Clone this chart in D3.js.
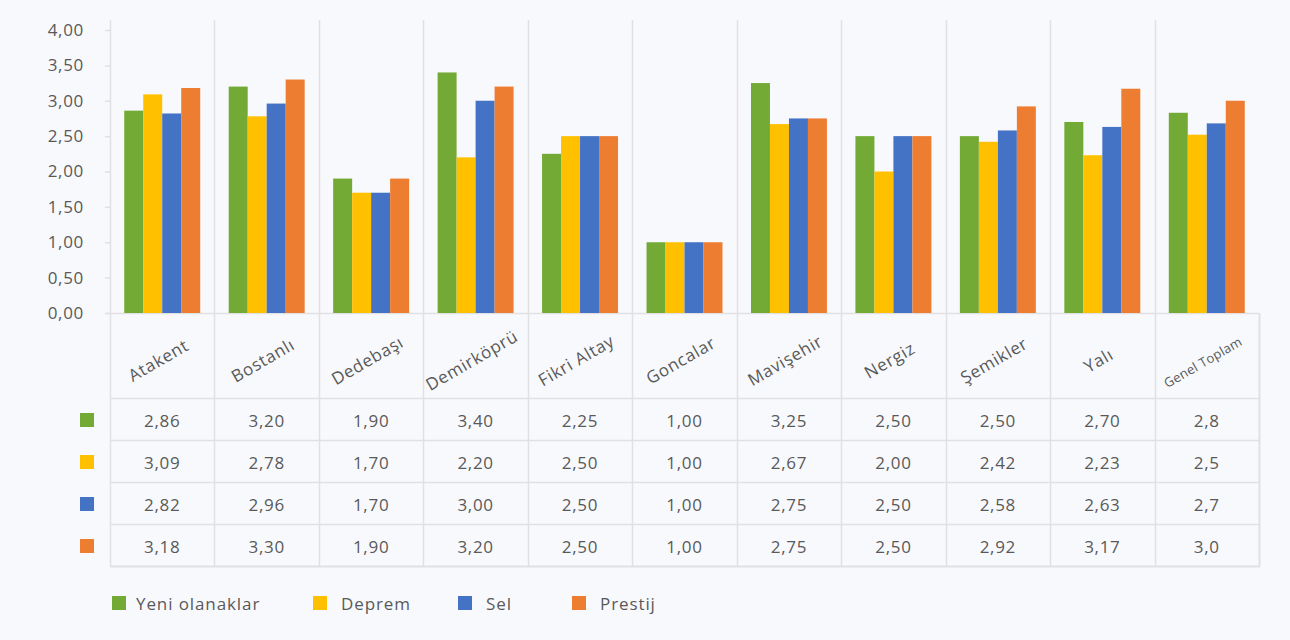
<!DOCTYPE html>
<html>
<head>
<meta charset="utf-8">
<script src="https://cdn.jsdelivr.net/npm/d3@7"></script>
<style>
  html, body { margin: 0; padding: 0; background: #f8f9fd; }
  svg { display: block; }
  text { font-family: "Open Sans", "Noto Sans", sans-serif; fill: #595959; letter-spacing: 0.7px; }
</style>
</head>
<body>
<svg id="chart" width="1290" height="640"></svg>
<script>
// ---- data ----
const categories = ["Atakent", "Bostanlı", "Dedebaşı", "Demirköprü", "Fikri Altay", "Goncalar", "Mavişehir", "Nergiz", "Şemikler", "Yalı", "Genel Toplam"];
const seriesNames = ["Yeni olanaklar", "Deprem", "Sel", "Prestij"];
const yeniOlanaklar = [2.86, 3.20, 1.90, 3.40, 2.25, 1.00, 3.25, 2.50, 2.50, 2.70, 2.83];
const deprem        = [3.09, 2.78, 1.70, 2.20, 2.50, 1.00, 2.67, 2.00, 2.42, 2.23, 2.52];
const sel           = [2.82, 2.96, 1.70, 3.00, 2.50, 1.00, 2.75, 2.50, 2.58, 2.63, 2.68];
const prestij       = [3.18, 3.30, 1.90, 3.20, 2.50, 1.00, 2.75, 2.50, 2.92, 3.17, 3.00];
const yTicks = [0, 0.5, 1, 1.5, 2, 2.5, 3, 3.5, 4];
const colors = ["#72aa35", "#ffc000", "#4472c4", "#ed7d31"];

const seriesValues = [yeniOlanaklar, deprem, sel, prestij];

// ---- layout ----
const svg = d3.select("#chart");
const left = 110, right = 1259, baseY = 313, topY = 30, gridTop = 20;
const headerBottom = 398, rowH = 42;
const tableBottom = headerBottom + rowH * 4;
const gridColor = "#e1e1e3";

const x = d3.scaleBand().domain(categories).range([left, right]).padding(0);
const xs = d3.scaleBand().domain(seriesNames).range([0, x.bandwidth()]).paddingInner(0).paddingOuter(0.75);
const y = d3.scaleLinear().domain([0, 4]).range([baseY, topY]);

const commaFmt = (p) => (v) => d3.format("." + p + "f")(v).replace(".", ",");

// vertical grid lines (category separators)
const gl = svg.append("g");
categories.forEach((c) => {
  gl.append("line")
    .attr("x1", Math.round(x(c)) + 0.5).attr("x2", Math.round(x(c)) + 0.5)
    .attr("y1", gridTop).attr("y2", tableBottom)
    .attr("stroke", gridColor).attr("stroke-width", 1.5);
});
// right border of table
gl.append("line")
  .attr("x1", right + 0.5).attr("x2", right + 0.5)
  .attr("y1", baseY).attr("y2", tableBottom + 1)
  .attr("stroke", gridColor).attr("stroke-width", 2);

// horizontal table lines
[headerBottom, headerBottom + rowH, headerBottom + 2 * rowH, headerBottom + 3 * rowH, tableBottom].forEach((yy, i) => {
  gl.append("line")
    .attr("x1", left).attr("x2", right + 1)
    .attr("y1", yy + 0.5).attr("y2", yy + 0.5)
    .attr("stroke", gridColor).attr("stroke-width", i === 4 ? 2 : 1.5);
});

// y axis
const yAxis = d3.axisLeft(y).tickValues(yTicks).tickFormat(commaFmt(2)).tickSize(5).tickPadding(21);
const ya = svg.append("g").attr("transform", `translate(${left},0)`).call(yAxis);
ya.select(".domain").remove();
ya.selectAll(".tick line").attr("stroke", gridColor).attr("stroke-width", 1.5);
ya.selectAll(".tick text").style("font-size", "17px").attr("fill", "#595959").style("font-family", "'Open Sans', sans-serif");

// baseline
svg.append("line")
  .attr("x1", left - 5).attr("x2", right + 1)
  .attr("y1", baseY + 0.5).attr("y2", baseY + 0.5)
  .attr("stroke", gridColor).attr("stroke-width", 1.5);

// bars
const groups = svg.append("g").selectAll("g").data(categories).join("g")
  .attr("transform", (c) => `translate(${x(c)},0)`);
groups.selectAll("rect")
  .data((c, ci) => seriesNames.map((s, si) => ({ s, si, v: seriesValues[si][ci] })))
  .join("rect")
  .attr("x", (d) => xs(d.s))
  .attr("width", xs.bandwidth())
  .attr("y", (d) => y(d.v))
  .attr("height", (d) => baseY - y(d.v))
  .attr("fill", (d) => colors[d.si]);

// category labels
svg.append("g").selectAll("text").data(categories).join("text")
  .attr("transform", (c) => `translate(${x(c) + x.bandwidth() / 2 - 4},${c === "Genel Toplam" ? 362 : 360}) rotate(-30)`)
  .attr("text-anchor", "middle")
  .attr("dominant-baseline", "central")
  .style("font-size", (c) => c === "Genel Toplam" ? "13px" : "17px")
  .style("letter-spacing", (c) => c === "Genel Toplam" ? "0.3px" : "0.7px")
  .text((c) => c);

// table values
seriesNames.forEach((s, si) => {
  const cy = headerBottom + rowH * si + rowH / 2;
  svg.append("rect")
    .attr("x", 80).attr("y", cy - 6).attr("width", 14).attr("height", 14)
    .attr("fill", colors[si]);
  svg.append("g").selectAll("text").data(categories).join("text")
    .attr("x", (c) => x(c) + x.bandwidth() / 2)
    .attr("y", cy + 1)
    .attr("text-anchor", "middle")
    .attr("dominant-baseline", "central")
    .style("font-size", "17px")
    .text((c, ci) => commaFmt(c === "Genel Toplam" ? 1 : 2)(seriesValues[si][ci]));
});

// legend
const legendX = [112, 313, 458, 572];
const lg = svg.append("g").selectAll("g").data(seriesNames).join("g")
  .attr("transform", (d, i) => `translate(${legendX[i]},596)`);
lg.append("rect").attr("width", 14).attr("height", 14).attr("fill", (d, i) => colors[i]);
lg.append("text").attr("x", (d, i) => i === 0 ? 24 : 28).attr("y", 7)
  .attr("dominant-baseline", "central")
  .style("font-size", "17px")
  .style("letter-spacing", "0.9px")
  .text((d) => d);
</script>
</body>
</html>
